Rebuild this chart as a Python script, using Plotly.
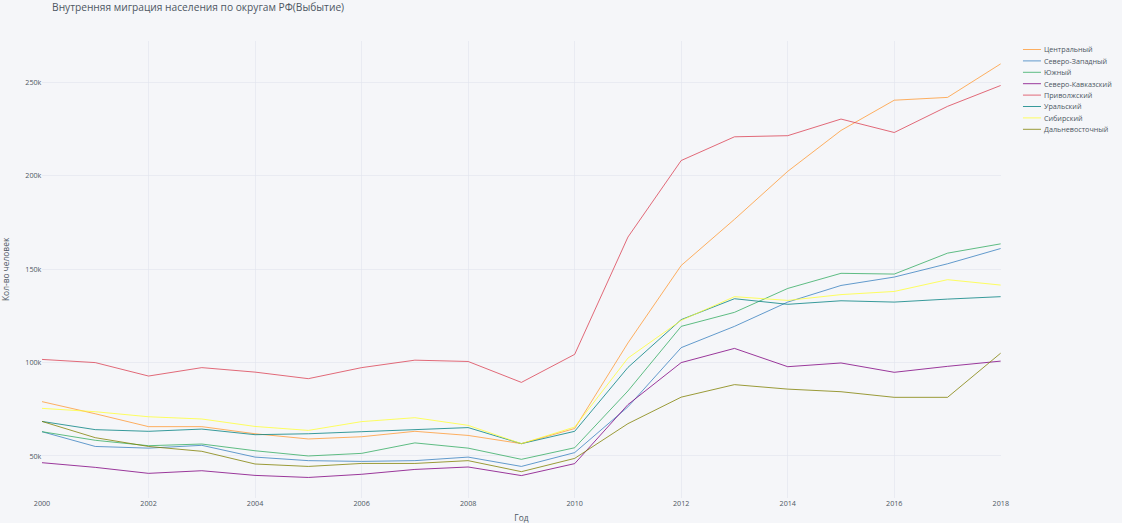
import plotly.graph_objects as go

years = list(range(2000, 2019))

central = [79.1, 72.6, 65.7, 65.7, 61.9, 59.1, 60.3, 63.2, 61.0, 56.6, 64.7, 110.5, 152.0, 176.7, 202.4, 224.3, 240.5, 242.0, 260.0]
northwest = [63.0, 55.1, 54.2, 55.7, 49.4, 47.5, 47.1, 47.5, 49.4, 44.4, 51.8, 76.3, 108.0, 119.4, 132.4, 141.3, 145.8, 152.9, 161.1]
south = [63.0, 58.4, 55.5, 56.4, 52.8, 50.0, 51.4, 57.0, 54.2, 48.2, 54.4, 84.8, 119.4, 126.9, 139.7, 147.8, 147.4, 158.6, 163.6]
north_caucasus = [46.4, 43.9, 40.7, 42.1, 39.6, 38.5, 40.2, 42.8, 44.1, 39.5, 45.9, 77.5, 100.0, 107.6, 97.8, 99.8, 94.8, 98.0, 100.8]
volga = [101.7, 100.0, 92.8, 97.3, 94.9, 91.4, 97.3, 101.3, 100.6, 89.4, 104.4, 167.2, 208.2, 220.9, 221.5, 230.4, 223.2, 237.2, 248.4]
ural = [68.5, 64.1, 63.2, 64.4, 61.4, 61.9, 63.0, 64.1, 65.2, 56.6, 63.2, 97.4, 123.0, 134.2, 131.2, 133.1, 132.4, 134.0, 135.3]
siberia = [75.5, 73.7, 71.0, 69.8, 65.8, 63.7, 68.4, 70.5, 66.4, 56.6, 65.5, 102.4, 122.6, 135.3, 133.3, 136.4, 138.1, 144.4, 141.5]
far_east = [68.5, 59.8, 55.1, 52.5, 45.7, 44.4, 46.0, 46.0, 47.5, 41.6, 48.7, 67.3, 81.5, 88.2, 85.8, 84.4, 81.4, 81.4, 105.1]

names = ["Центральный", "Северо-Западный", "Южный", "Северо-Кавказский",
         "Приволжский", "Уральский", "Сибирский", "Дальневосточный"]
series = [central, northwest, south, north_caucasus, volga, ural, siberia, far_east]
colors = ["rgb(255, 153, 51)", "rgb(55, 128, 191)", "rgb(50, 171, 96)", "rgb(128, 0, 128)",
          "rgb(219, 64, 82)", "rgb(0, 128, 128)", "rgb(255, 255, 51)", "rgb(128, 128, 0)"]

FONT_COLOR = "#4D5663"
BG = "#F5F6F9"
GRID = "#E1E5ED"

fig = go.Figure()
for name, vals, col in zip(names, series, colors):
    fig.add_trace(go.Scatter(
        x=years, y=[v * 1000 for v in vals], name=name, mode="lines",
        line=dict(color=col, width=1.3),
    ))

fig.update_layout(
    width=1870, height=872,
    margin=dict(l=70, r=202, t=68, b=42, autoexpand=False),
    paper_bgcolor=BG, plot_bgcolor=BG,
    font=dict(family="Open Sans, verdana, arial, sans-serif", size=12, color=FONT_COLOR),
    title=dict(text="Внутренняя миграция населения по округам РФ(Выбытие)",
               x=0.0464, xanchor="left", y=0.9857, yanchor="middle",
               font=dict(size=17, color=FONT_COLOR)),
    legend=dict(bgcolor=BG, font=dict(size=12, color=FONT_COLOR)),
    xaxis=dict(title=dict(text="Год", font=dict(color=FONT_COLOR)),
               gridcolor=GRID, zerolinecolor=GRID, showline=False,
               tickfont=dict(color=FONT_COLOR), dtick=2),
    yaxis=dict(title=dict(text="Кол-во человек", font=dict(color=FONT_COLOR), standoff=22),
               gridcolor=GRID, zerolinecolor=GRID, showline=False,
               tickfont=dict(color=FONT_COLOR), dtick=50000,
               range=[27500, 272300]),
)

post = ("document.body.style.margin='0';"
        "document.body.style.overflow='hidden';"
        "document.body.style.zoom='0.6';")
fig.write_html("out.html", post_script=post, config={"displayModeBar": False})
